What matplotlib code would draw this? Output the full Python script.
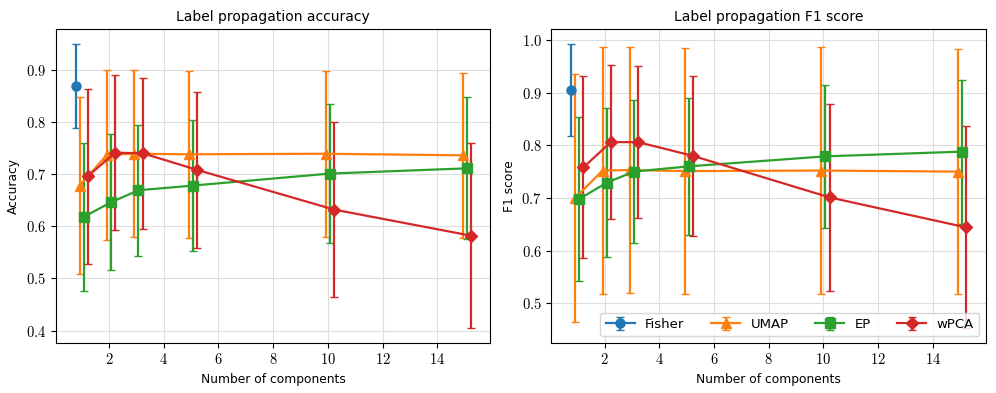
import numpy as np
import matplotlib
matplotlib.use("Agg")
import matplotlib.pyplot as plt
from matplotlib.ticker import FormatStrFormatter

plt.rcParams['mathtext.fontset'] = 'cm'
plt.rcParams['font.family'] = ['DejaVu Sans']

# Number of components
components = [1, 2, 3, 5, 10, 15]
methods = ["Fisher", "UMAP", "EP", "wPCA"]

# Fisher is a single point (1 component)
fisher_acc, fisher_acc_err = 0.869, 0.081
fisher_f1, fisher_f1_err = 0.905, 0.088

# accuracy means and std
umap_acc = [0.678, 0.737, 0.739, 0.738, 0.739, 0.736]
umap_acc_err = [0.169, 0.163, 0.160, 0.160, 0.159, 0.158]
ep_acc = [0.618, 0.646, 0.669, 0.678, 0.701, 0.711]
ep_acc_err = [0.142, 0.130, 0.126, 0.125, 0.133, 0.136]
wpca_acc = [0.696, 0.741, 0.740, 0.708, 0.632, 0.582]
wpca_acc_err = [0.168, 0.149, 0.145, 0.150, 0.168, 0.178]

# F1 means and std
umap_f1 = [0.700, 0.752, 0.753, 0.751, 0.752, 0.750]
umap_f1_err = [0.236, 0.234, 0.234, 0.234, 0.234, 0.233]
ep_f1 = [0.698, 0.729, 0.750, 0.760, 0.779, 0.788]
ep_f1_err = [0.155, 0.141, 0.136, 0.130, 0.136, 0.137]
wpca_f1 = [0.758, 0.806, 0.806, 0.780, 0.701, 0.644]
wpca_f1_err = [0.173, 0.146, 0.145, 0.152, 0.178, 0.192]

offsets = [-0.225, -0.075, 0.075, 0.225]
markers = ["o", "^", "s", "D"]
colors = ["tab:blue", "tab:orange", "tab:green", "tab:red"]

fig, axes = plt.subplots(1, 2, figsize=(9.96, 3.93), dpi=100)

panels = [
    ("Label propagation accuracy", "Accuracy", (fisher_acc, fisher_acc_err),
     [(umap_acc, umap_acc_err), (ep_acc, ep_acc_err), (wpca_acc, wpca_acc_err)]),
    ("Label propagation F1 score", "F1 score", (fisher_f1, fisher_f1_err),
     [(umap_f1, umap_f1_err), (ep_f1, ep_f1_err), (wpca_f1, wpca_f1_err)]),
]

x = np.array(components, dtype=float)
for ax, (title, ylabel, fisher, series) in zip(axes, panels):
    # Fisher only at 1 component
    ax.errorbar([components[0] + offsets[0]], [fisher[0]], yerr=[fisher[1]],
                marker=markers[0], color=colors[0], capsize=3, lw=1.6, ms=6.5,
                label=methods[0])
    for k, (m, e) in enumerate(series, start=1):
        ax.errorbar(x + offsets[k], m, yerr=e, marker=markers[k], color=colors[k],
                    capsize=3, lw=1.6, ms=6.5, label=methods[k])
    ax.set_title(title, fontsize=10)
    ax.set_xlabel("Number of components", fontsize=8.8)
    ax.set_ylabel(ylabel, fontsize=8.8)
    ax.grid(True, color="#dddddd", lw=0.8)
    ax.set_axisbelow(True)
    ax.yaxis.set_major_formatter(FormatStrFormatter('$%.1f$'))
    ax.xaxis.set_major_formatter(FormatStrFormatter('$%d$'))
    ax.tick_params(labelsize=10.5)

axes[1].legend(loc="lower right", ncol=4, fontsize=9.5, handlelength=2.2)

fig.subplots_adjust(left=0.056, right=0.99, bottom=0.128, top=0.925, wspace=0.14)
fig.savefig("out.png")
